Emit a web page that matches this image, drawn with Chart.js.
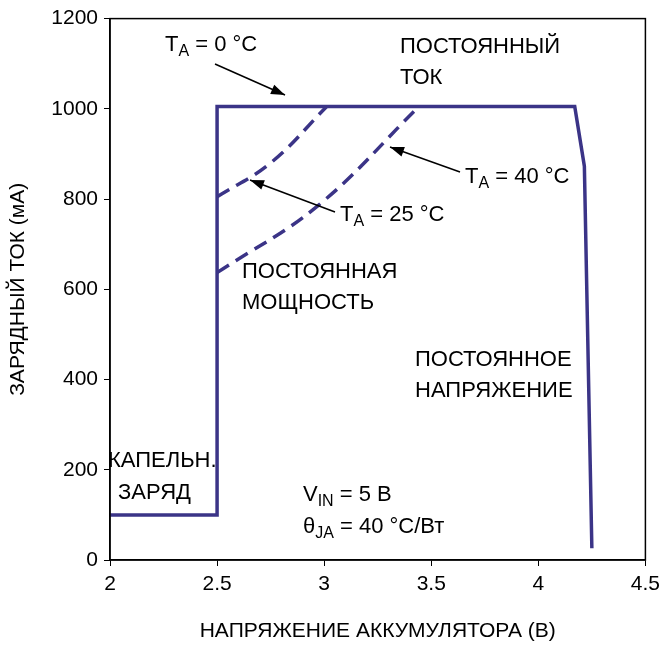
<!DOCTYPE html>
<html><head><meta charset="utf-8">
<script src="https://cdn.jsdelivr.net/npm/chart.js@4"></script>
<style>html,body{margin:0;padding:0;background:#fff}#w{width:666px;height:648px}</style>
</head><body><div id="w"><canvas id="c"></canvas></div>
<script>
const mainX=[2,2.5,2.5,4.17,4.215,4.25];
const mainY=[100,100,1005,1005,873,26];
const t25X=[2.5,2.75,3.01];
const t25Y=[805,880,1004];
const t40X=[2.5,2.97,3.44];
const t40Y=[637,785,1004];
const xTicks=[2,2.5,3,3.5,4,4.5];
const yTicks=[0,200,400,600,800,1000,1200];
const col='#3b3487';
const F='"Liberation Sans",Arial,sans-serif';
const pts=(xs,ys)=>xs.map((x,i)=>({x,y:ys[i]}));
function txt(ctx,s,x,y,sub,rest){ctx.font='22px '+F;ctx.fillText(s,x,y);let w=ctx.measureText(s).width;
 if(sub){ctx.font='16px '+F;ctx.fillText(sub,x+w,y+7);w+=ctx.measureText(sub).width;ctx.font='22px '+F;ctx.fillText(rest,x+w,y);}}
function arrow(ctx,x1,y1,x2,y2){ctx.strokeStyle='#000';ctx.fillStyle='#000';ctx.lineWidth=1.5;ctx.beginPath();ctx.moveTo(x1,y1);ctx.lineTo(x2,y2);ctx.stroke();
 const a=Math.atan2(y2-y1,x2-x1),L=14,W=5;ctx.beginPath();ctx.moveTo(x2,y2);
 ctx.lineTo(x2-L*Math.cos(a)+W*Math.sin(a),y2-L*Math.sin(a)-W*Math.cos(a));
 ctx.lineTo(x2-L*Math.cos(a)-W*Math.sin(a),y2-L*Math.sin(a)+W*Math.cos(a));ctx.closePath();ctx.fill();}
const ann={id:'ann',afterDraw(ch){const ctx=ch.ctx,a=ch.chartArea;ctx.save();
 ctx.strokeStyle='#000';ctx.lineWidth=1.5;ctx.strokeRect(a.left,a.top,a.right-a.left,a.bottom-a.top);
 ctx.fillStyle='#000';ctx.textBaseline='middle';ctx.textAlign='left';
 txt(ctx,'T',165,45,'A',' = 0 °C');
 txt(ctx,'ПОСТОЯННЫЙ',400,47);txt(ctx,'ТОК',400,78);
 txt(ctx,'T',465,177,'A',' = 40 °C');
 txt(ctx,'T',340,215,'A',' = 25 °C');
 txt(ctx,'ПОСТОЯННАЯ',242,272);txt(ctx,'МОЩНОСТЬ',242,303);
 txt(ctx,'ПОСТОЯННОЕ',415,360);txt(ctx,'НАПРЯЖЕНИЕ',415,391);
 txt(ctx,'КАПЕЛЬН.',108,461);txt(ctx,'ЗАРЯД',118,493);
 txt(ctx,'V',303,495,'IN',' = 5 В');
 txt(ctx,'θ',303,527,'JA',' = 40 °C/Вт');
 arrow(ctx,215,64,285,95);arrow(ctx,460,172,390,147);arrow(ctx,335,212,250,180);
 ctx.restore();}};
new Chart(document.getElementById('c'),{type:'scatter',
 data:{datasets:[
  {data:pts(mainX,mainY),showLine:true,borderColor:col,borderWidth:3.5,pointRadius:0,tension:0},
  {data:pts(t25X,t25Y),showLine:true,borderColor:col,borderWidth:3.5,borderDash:[14,8],pointRadius:0,tension:0.4},
  {data:pts(t40X,t40Y),showLine:true,borderColor:col,borderWidth:3.5,borderDash:[14,8],pointRadius:0,tension:0.4}]},
 options:{responsive:true,maintainAspectRatio:false,animation:false,events:[],
  layout:{padding:{left:2,right:11,top:2,bottom:0}},
  plugins:{legend:{display:false},tooltip:{enabled:false}},
  scales:{
   x:{type:'linear',min:2,max:4.5,afterBuildTicks:s=>{s.ticks=xTicks.map(v=>({value:v}))},
    afterFit:s=>{s.height=88},
    grid:{drawOnChartArea:false,tickLength:6,color:'#000'},border:{color:'#000',width:1.5},
    ticks:{color:'#000',font:{family:F,size:21},padding:6,maxRotation:0,callback:v=>String(v)},
    title:{display:true,text:'НАПРЯЖЕНИЕ АККУМУЛЯТОРА (В)',color:'#000',font:{family:F,size:21},padding:{top:4}}},
   y:{type:'linear',min:0,max:1200,afterBuildTicks:s=>{s.ticks=yTicks.map(v=>({value:v}))},
    afterFit:s=>{s.width=108},
    grid:{drawOnChartArea:false,tickLength:6,color:'#000'},border:{color:'#000',width:1.5},
    ticks:{color:'#000',font:{family:F,size:21},padding:6,callback:v=>String(v)},
    title:{display:true,text:'ЗАРЯДНЫЙ ТОК (мА)',color:'#000',font:{family:F,size:21},padding:{bottom:4}}}}},
 plugins:[ann]});
</script></body></html>
